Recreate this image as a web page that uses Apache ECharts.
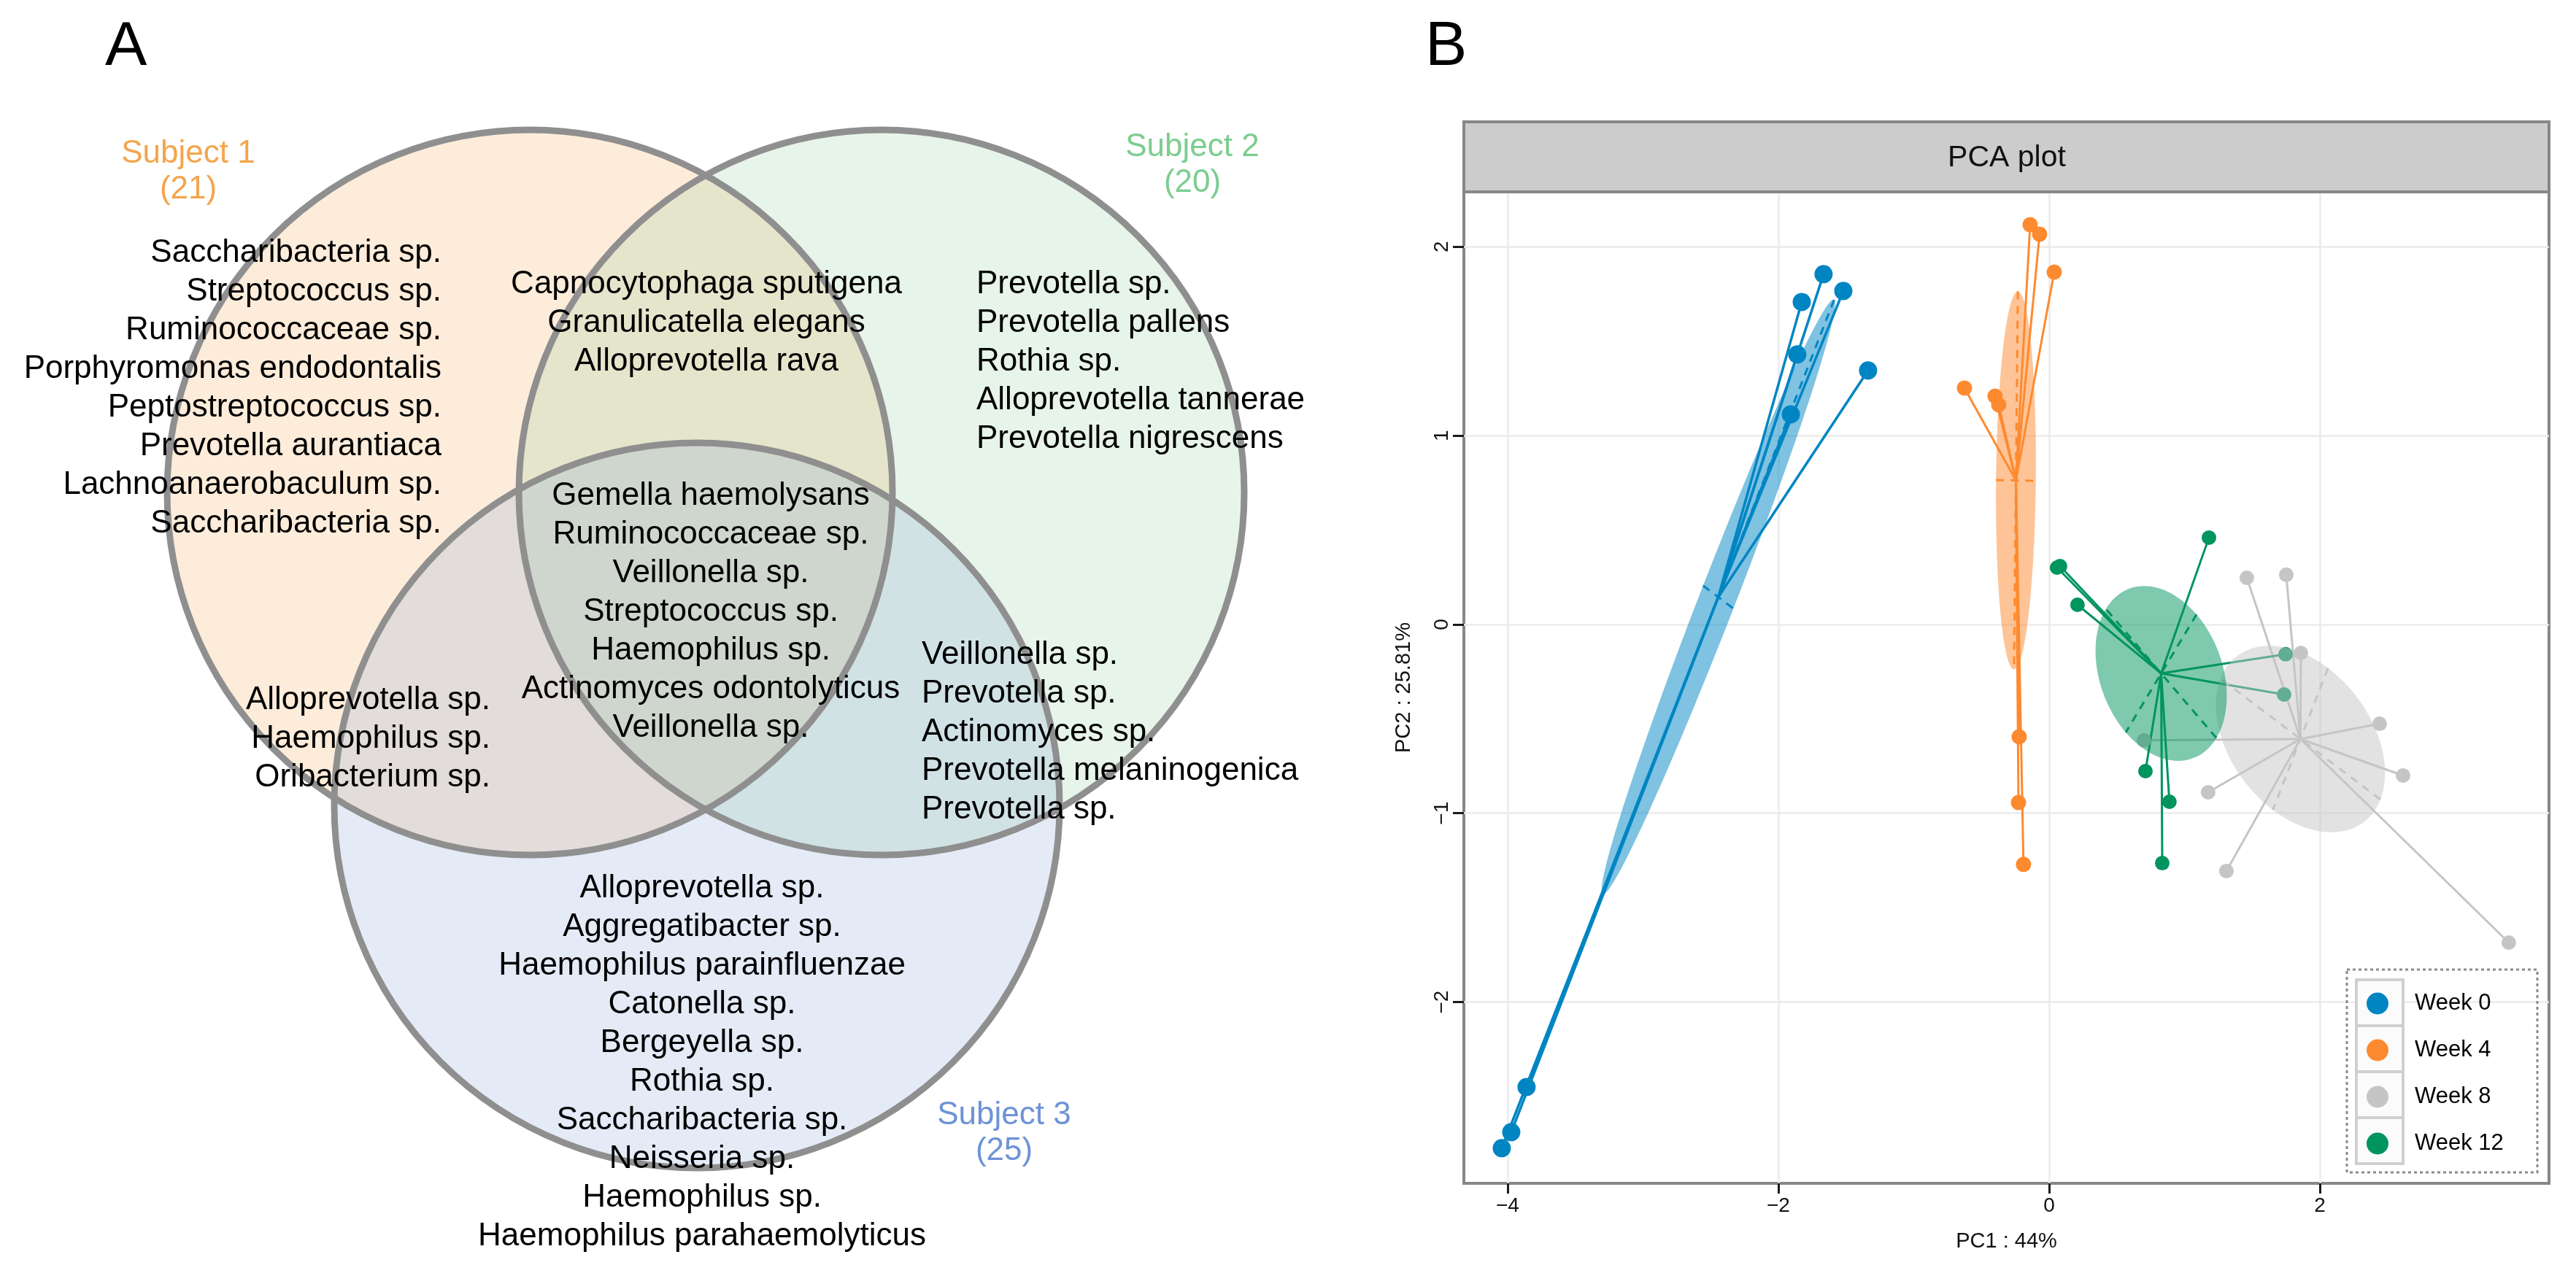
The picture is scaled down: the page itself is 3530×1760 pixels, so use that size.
<!DOCTYPE html>
<html>
<head>
<meta charset="utf-8">
<script src="https://cdn.jsdelivr.net/npm/echarts@6/dist/echarts.min.js"></script>
<style>html,body{margin:0;padding:0;background:#fff}#c{width:3530px;height:1760px}</style>
</head>
<body>
<div id="c"></div>
<script>
// ================= DATA =================
// Panel A: Venn diagram
const vennSets = ['Subject 1', 'Subject 2', 'Subject 3'];
const vennCounts = [21, 20, 25];
const only1 = ['Saccharibacteria sp.', 'Streptococcus sp.', 'Ruminococcaceae sp.', 'Porphyromonas endodontalis', 'Peptostreptococcus sp.', 'Prevotella aurantiaca', 'Lachnoanaerobaculum sp.', 'Saccharibacteria sp.'];
const shared12 = ['Capnocytophaga sputigena', 'Granulicatella elegans', 'Alloprevotella rava'];
const only2 = ['Prevotella sp.', 'Prevotella pallens', 'Rothia sp.', 'Alloprevotella tannerae', 'Prevotella nigrescens'];
const shared123 = ['Gemella haemolysans', 'Ruminococcaceae sp.', 'Veillonella sp.', 'Streptococcus sp.', 'Haemophilus sp.', 'Actinomyces odontolyticus', 'Veillonella sp.'];
const shared13 = ['Alloprevotella sp.', 'Haemophilus sp.', 'Oribacterium sp.'];
const shared23 = ['Veillonella sp.', 'Prevotella sp.', 'Actinomyces sp.', 'Prevotella melaninogenica', 'Prevotella sp.'];
const only3 = ['Alloprevotella sp.', 'Aggregatibacter sp.', 'Haemophilus parainfluenzae', 'Catonella sp.', 'Bergeyella sp.', 'Rothia sp.', 'Saccharibacteria sp.', 'Neisseria sp.', 'Haemophilus sp.', 'Haemophilus parahaemolyticus'];

// Panel B: PCA scores (PC1, PC2) per group
const groups = ['Week 0', 'Week 4', 'Week 8', 'Week 12'];
const week0PC1 = [-1.666, -1.520, -1.827, -1.860, -1.908, -1.337, -3.860, -3.973, -4.043];
const week0PC2 = [1.855, 1.766, 1.708, 1.430, 1.113, 1.345, -2.450, -2.689, -2.774];
const week4PC1 = [-0.140, -0.070, 0.038, -0.625, -0.399, -0.372, -0.221, -0.226, -0.189];
const week4PC2 = [2.117, 2.067, 1.866, 1.252, 1.209, 1.163, -0.595, -0.943, -1.271];
const week8PC1 = [1.461, 1.752, 1.860, 2.442, 2.615, 1.175, 1.310, 3.396, 0.701];
const week8PC2 = [0.247, 0.263, -0.151, -0.526, -0.800, -0.889, -1.306, -1.685, -0.614];
const week12PC1 = [1.181, 0.059, 0.081, 0.210, 1.747, 1.736, 0.712, 0.889, 0.836];
const week12PC2 = [0.460, 0.301, 0.309, 0.104, -0.158, -0.371, -0.777, -0.939, -1.264];
const xTicks = [-4, -2, 0, 2];
const yTicks = [-2, -1, 0, 1, 2];
const xTitle = 'PC1 : 44%';
const yTitle = 'PC2 : 25.81%';
const facetTitle = 'PCA plot';

// ================= STYLE / LAYOUT =================
const F = "'Liberation Sans', Arial, Helvetica, sans-serif";
const groupColors = ['#0085c3', '#fe8a2f', '#c5c5c5', '#00945f'];
const groupSymbol = [25, 21, 20, 20];
const ELLIPSE_SCALE = 2.25;
const ELLIPSE_ALPHA = 0.5;

const VL = {
  circles: [[726, 675], [1208, 675], [955, 1104]],
  r: 497,
  fills: ['rgba(245,168,88,0.22)', 'rgba(140,205,150,0.21)', 'rgba(128,160,216,0.21)'],
  stroke: '#8f8f8f', strokeWidth: 9,
  setLabelPos: [[258, 211], [1634, 202], [1376, 1529]],
  labelGap: 49,
  setColors: ['#f3a54c', '#7ccd8f', '#6d93d6'],
  gap: 53, fontSize: 44,
  regions: [
    { list: only1, x: 605, y: 347, align: 'right' },
    { list: shared12, x: 968, y: 390, align: 'center' },
    { list: only2, x: 1338, y: 390, align: 'left' },
    { list: shared123, x: 974, y: 680, align: 'center' },
    { list: shared13, x: 672, y: 960, align: 'right' },
    { list: shared23, x: 1263, y: 898, align: 'left' },
    { list: only3, x: 962, y: 1218, align: 'center' }
  ]
};

// ================= BUILD =================
const pcaGroups = [
  { x: week0PC1, y: week0PC2 },
  { x: week4PC1, y: week4PC2 },
  { x: week8PC1, y: week8PC2 },
  { x: week12PC1, y: week12PC2 }
];

function seEllipse(xs, ys, scale) {
  const n = xs.length;
  const mx = xs.reduce((a, b) => a + b, 0) / n;
  const my = ys.reduce((a, b) => a + b, 0) / n;
  let sxx = 0, syy = 0, sxy = 0;
  for (let i = 0; i < n; i++) {
    const dx = xs[i] - mx, dy = ys[i] - my;
    sxx += dx * dx; syy += dy * dy; sxy += dx * dy;
  }
  const cxx = sxx / (n - 1) / n, cyy = syy / (n - 1) / n, cxy = sxy / (n - 1) / n;
  const tr = (cxx + cyy) / 2;
  const d = Math.sqrt(((cxx - cyy) / 2) ** 2 + cxy * cxy);
  const l1 = tr + d, l2 = Math.max(tr - d, 0);
  const th = 0.5 * Math.atan2(2 * cxy, cxx - cyy);
  return { cx: mx, cy: my, a: scale * Math.sqrt(l1), b: scale * Math.sqrt(l2), th };
}
const ells = pcaGroups.map(g => seEllipse(g.x, g.y, ELLIPSE_SCALE));

function ellipsePoints(e) {
  const pts = [];
  const N = 120;
  for (let k = 0; k < N; k++) {
    const t = 2 * Math.PI * k / N;
    const ct = Math.cos(t), st = Math.sin(t);
    pts.push([
      e.cx + e.a * ct * Math.cos(e.th) - e.b * st * Math.sin(e.th),
      e.cy + e.a * ct * Math.sin(e.th) + e.b * st * Math.cos(e.th)
    ]);
  }
  return pts;
}

const spiderData = [];
pcaGroups.forEach((g, gi) => g.x.forEach((x, i) => spiderData.push([x, g.y[i], gi])));

function hexA(hex, a) {
  const n = parseInt(hex.slice(1), 16);
  return `rgba(${(n >> 16) & 255},${(n >> 8) & 255},${n & 255},${a})`;
}

// Venn text items
const vennTexts = [];
VL.regions.forEach(reg => reg.list.forEach((t, i) =>
  vennTexts.push({ x: reg.x, y: reg.y + i * VL.gap, text: t, align: reg.align, color: '#000' })));
vennSets.forEach((s, i) => {
  const p = VL.setLabelPos[i];
  vennTexts.push({ x: p[0], y: p[1], text: s, align: 'center', color: VL.setColors[i] });
  vennTexts.push({ x: p[0], y: p[1] + VL.labelGap, text: '(' + vennCounts[i] + ')', align: 'center', color: VL.setColors[i] });
});

const minus = v => String(v).replace('-', '\u2212');

const option = {
  backgroundColor: '#ffffff',
  animation: false,
  textStyle: { fontFamily: F },
  grid: [
    { left: 2006, top: 263, width: 1487, height: 1359, show: true, borderColor: '#878787', borderWidth: 4, backgroundColor: '#ffffff', containLabel: false },
    { left: 0, top: 0, width: 1800, height: 1760, show: false, containLabel: false }
  ],
  xAxis: [
    {
      gridIndex: 0, type: 'value', min: -4.323, max: 3.693, splitNumber: 4, position: 'bottom',
      name: xTitle, nameLocation: 'middle', nameGap: 65,
      nameTextStyle: { fontSize: 29, color: '#111', fontFamily: F },
      axisLine: { show: false, onZero: false },
      axisTick: { show: true, inside: false, length: 14, customValues: xTicks, lineStyle: { color: '#1a1a1a', width: 3 } },
      axisLabel: { customValues: xTicks, formatter: minus, fontSize: 28, color: '#111', margin: 17, fontFamily: F },
      splitLine: { show: true, lineStyle: { color: '#ebebeb', width: 2.5 } }
    },
    { gridIndex: 1, type: 'value', min: 0, max: 1800, show: false }
  ],
  yAxis: [
    {
      gridIndex: 0, type: 'value', min: -2.96, max: 2.291, splitNumber: 5, position: 'left',
      name: yTitle, nameLocation: 'middle', nameGap: 68, nameRotate: 90,
      nameTextStyle: { fontSize: 29, color: '#111', fontFamily: F },
      axisLine: { show: false, onZero: false },
      axisTick: { show: true, inside: false, length: 15, customValues: yTicks, lineStyle: { color: '#1a1a1a', width: 3 } },
      axisLabel: { customValues: yTicks, formatter: minus, rotate: 90, fontSize: 28, color: '#111', margin: 16, fontFamily: F },
      splitLine: { show: true, lineStyle: { color: '#ebebeb', width: 2.5 } }
    },
    { gridIndex: 1, type: 'value', min: 0, max: 1760, inverse: true, show: false }
  ],
  legend: {
    data: groups, orient: 'vertical', left: 3243, top: 1360, padding: 0,
    itemWidth: 30, itemHeight: 30, itemGap: 33, icon: 'circle', selectedMode: false, z: 10,
    formatter: '{t|{name}}',
    textStyle: { rich: { t: { fontSize: 31, fontFamily: F, color: '#000', padding: [0, 0, 0, 31] } } }
  },
  graphic: [
    { type: 'text', x: 144, y: 65, z: 5, style: { text: 'A', font: '86px ' + F, fill: '#000', verticalAlign: 'middle', align: 'left' } },
    { type: 'text', x: 1953, y: 65, z: 5, style: { text: 'B', font: '86px ' + F, fill: '#000', verticalAlign: 'middle', align: 'left' } },
    { type: 'rect', z: 5, shape: { x: 2006, y: 167, width: 1487, height: 96 }, style: { fill: '#cccccc', stroke: '#878787', lineWidth: 4 } },
    { type: 'text', x: 2750, y: 217, z: 6, style: { text: facetTitle, font: '41px ' + F, fill: '#111', align: 'center', verticalAlign: 'middle' } },
    { type: 'rect', z: 5, shape: { x: 3216, y: 1329, width: 261, height: 278 }, style: { fill: 'rgba(255,255,255,0)', stroke: '#8a8a8a', lineWidth: 3, lineDash: [4, 4] } },
    ...[0, 1, 2, 3].map(k => ({ type: 'rect', z: 6, shape: { x: 3229, y: 1343 + 63 * k, width: 64, height: 63 }, style: { fill: '#fbfbfb', stroke: '#d0d0d0', lineWidth: 4 } }))
  ],
  series: [
    // ---------- Venn (panel A) ----------
    {
      type: 'custom', name: 'venn-fill', xAxisIndex: 1, yAxisIndex: 1, z: 1, silent: true,
      data: VL.circles.map((c, i) => [c[0], c[1], i]),
      renderItem: (params, api) => {
        const c = api.coord([api.value(0), api.value(1)]);
        const r = api.size([VL.r, 0])[0];
        return { type: 'circle', shape: { cx: c[0], cy: c[1], r }, style: { fill: VL.fills[api.value(2)] } };
      }
    },
    {
      type: 'custom', name: 'venn-stroke', xAxisIndex: 1, yAxisIndex: 1, z: 2, silent: true,
      data: VL.circles.map((c, i) => [c[0], c[1], i]),
      renderItem: (params, api) => {
        const c = api.coord([api.value(0), api.value(1)]);
        const r = api.size([VL.r, 0])[0];
        return { type: 'circle', shape: { cx: c[0], cy: c[1], r }, style: { fill: 'none', stroke: VL.stroke, lineWidth: VL.strokeWidth } };
      }
    },
    {
      type: 'custom', name: 'venn-text', xAxisIndex: 1, yAxisIndex: 1, z: 3, silent: true,
      data: vennTexts.map((t, i) => [t.x, t.y, i]),
      renderItem: (params, api) => {
        const t = vennTexts[api.value(2)];
        const c = api.coord([api.value(0), api.value(1)]);
        return { type: 'text', x: c[0], y: c[1], style: { text: t.text, fill: t.color, font: VL.fontSize + 'px ' + F, align: t.align, verticalAlign: 'middle' } };
      }
    },
    // ---------- PCA (panel B) ----------
    {
      type: 'custom', name: 'spider', xAxisIndex: 0, yAxisIndex: 0, z: 2, silent: true,
      encode: { x: 0, y: 1 },
      data: spiderData,
      renderItem: (params, api) => {
        const g = api.value(2);
        const c = api.coord([ells[g].cx, ells[g].cy]);
        const p = api.coord([api.value(0), api.value(1)]);
        return { type: 'line', shape: { x1: c[0], y1: c[1], x2: p[0], y2: p[1] }, style: { stroke: groupColors[g], lineWidth: g === 0 ? 3.5 : 3 } };
      }
    },
    ...groups.map((name, gi) => ({
      type: 'scatter', name, xAxisIndex: 0, yAxisIndex: 0, z: 3,
      symbol: 'circle', symbolSize: groupSymbol[gi],
      itemStyle: { color: groupColors[gi], opacity: 1 },
      data: pcaGroups[gi].x.map((x, i) => [x, pcaGroups[gi].y[i]])
    })),
    {
      type: 'custom', name: 'ellipse', xAxisIndex: 0, yAxisIndex: 0, z: 4, silent: true,
      encode: { x: 0, y: 1 },
      data: ells.map((e, gi) => [e.cx, e.cy, gi]),
      renderItem: (params, api) => {
        const g = api.value(2);
        const e = ells[g];
        const pts = ellipsePoints(e).map(p => api.coord(p));
        const ux = Math.cos(e.th), uy = Math.sin(e.th);
        const a1 = api.coord([e.cx + e.a * ux, e.cy + e.a * uy]);
        const a2 = api.coord([e.cx - e.a * ux, e.cy - e.a * uy]);
        const b1 = api.coord([e.cx - e.b * uy, e.cy + e.b * ux]);
        const b2 = api.coord([e.cx + e.b * uy, e.cy - e.b * ux]);
        const dash = { stroke: groupColors[g], lineWidth: 3, lineDash: [11, 9] };
        return {
          type: 'group', children: [
            { type: 'polygon', shape: { points: pts }, style: { fill: hexA(groupColors[g], ELLIPSE_ALPHA) } },
            { type: 'line', shape: { x1: a1[0], y1: a1[1], x2: a2[0], y2: a2[1] }, style: dash },
            { type: 'line', shape: { x1: b1[0], y1: b1[1], x2: b2[0], y2: b2[1] }, style: dash }
          ]
        };
      }
    }
  ]
};

const chart = echarts.init(document.getElementById('c'), null, { renderer: 'canvas', width: 3530, height: 1760 });
chart.setOption(option);
</script>
</body>
</html>
